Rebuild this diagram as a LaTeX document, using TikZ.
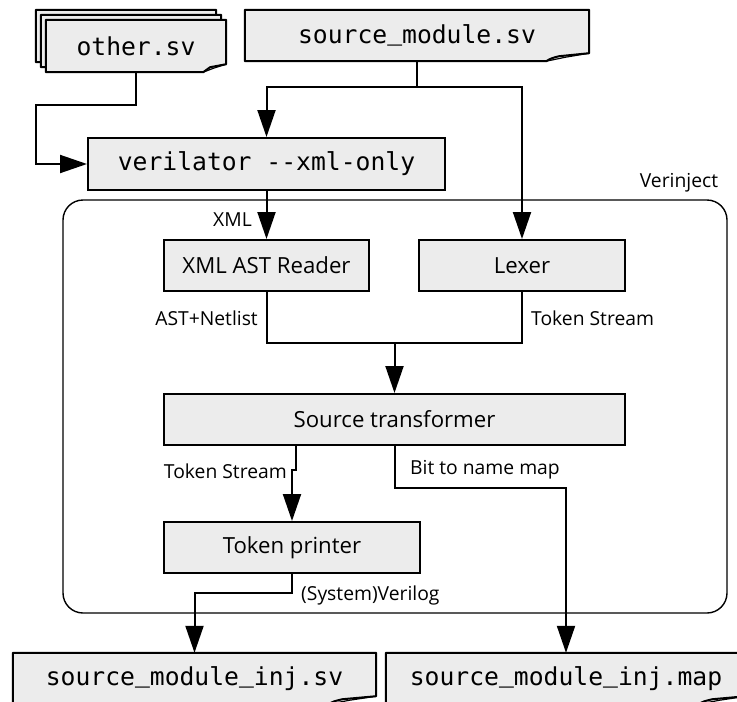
\documentclass[tikz,border=0pt]{standalone}
\usepackage{fontspec}
\setmainfont{Open Sans}
\newfontfamily\codefont{DejaVu Sans Mono}
\newfontfamily\usfont{Liberation Mono}
\usetikzlibrary{arrows.meta,calc}
\definecolor{boxfill}{RGB}{236,236,236}
% underscore taken from a font whose low line is heavier
\newcommand\us{\makebox[0.602em][c]{\usfont\char"5F}}
\tikzset{
  box/.style={draw, line width=2pt, fill=boxfill, inner sep=0pt,
    font=\fontsize{22.2}{26}\selectfont},
  fileframe/.style={inner sep=0pt},
  filetext/.style={inner sep=0pt, font=\codefont\fontsize{24.7}{28}\selectfont},
  wire/.style={line width=2pt},
  flow/.style={wire, -{Triangle[length=27pt,width=18pt]}},
  lbl/.style={inner sep=0pt, font=\fontsize{19.3}{23}\selectfont},
  group/.style={draw, line width=1.4pt, rounded corners=20pt},
}
% document outline with a folded lower-right corner
\newcommand\docpath[2]{%
  \filldraw[fill=boxfill, line width=2pt, line join=round]
    (#1.north west) -- (#1.north east) -- ($(#1.south east)+(0,-8)$)
    -- ($(#1.south east)+({-0.7*#2},-5)$)
    .. controls ($(#1.south east)+({-0.88*#2},-3)$) .. ($(#1.south east)+(-#2,0)$)
    -- (#1.south west) -- cycle;
  \draw[line width=1.2pt, line join=round]
    ($(#1.south east)+(-#2,0)$) -- ($(#1.south east)+({-0.55*#2},-4)$)
    -- ($(#1.south east)+(0,-8)$);
}
\begin{document}
\begin{tikzpicture}[x=1pt,y=-1pt]
\useasboundingbox (0,0) rectangle (737,702);
\clip (0,0) rectangle (737,702);

% stacked input files
\node[fileframe, minimum width=180pt, minimum height=52pt] (other2) at (126,36) {};
\docpath{other2}{23}
\node[fileframe, minimum width=180pt, minimum height=52pt] (other1) at (131,41) {};
\docpath{other1}{23}
\node[fileframe, minimum width=180pt, minimum height=52pt] (other) at (136,46) {};
\docpath{other}{23}
\node[filetext] (othertxt) at (other) {other.sv};

\node[fileframe, minimum width=344pt, minimum height=51pt] (src) at (417,35.5) {};
\docpath{src}{43}
\node[filetext] (srctxt) at (src) {source\us module.sv};

% verilator front end
\node[box, minimum width=357pt, minimum height=52pt] (ver) at (266.5,164) {};
\node[filetext] (vertxt) at (ver) {verilator -{}-xml-only};

% Verinject group
\draw[group] (63,200) rectangle (727,613);
\node[lbl] (grp) at (679,183) {Verinject};

\node[box, minimum width=205pt, minimum height=51pt] (xmlr) at (266.5,265.5) {XML AST Reader};
\node[box, minimum width=206pt, minimum height=51pt] (lex) at (522,265.5) {Lexer};
\node[box, minimum width=461pt, minimum height=51pt] (st) at (394.5,419.5) {Source transformer};
\node[box, minimum width=256pt, minimum height=51pt] (tp) at (292,547.5) {Token printer};

% output files
\node[fileframe, minimum width=363pt, minimum height=51pt] (inj) at (194.5,678.5) {};
\docpath{inj}{48}
\node[filetext] (injtxt) at (inj) {source\us module\us inj.sv};
\node[fileframe, minimum width=360pt, minimum height=51pt] (map) at (566,678.5) {};
\docpath{map}{48}
\node[filetext] (maptxt) at (map) {source\us module\us inj.map};

% connectors
\coordinate (split) at (417,87);
\draw[wire] (src.south) -- (split);
\draw[flow] (split) -| (ver.north);
\draw[flow] (split) -| (lex.north);

\draw[flow] (other.south) -- ++(0,33) -| (36,164) -- (ver.west);

\draw[flow] (ver.south) -- (xmlr.north);
\node[lbl, anchor=east] (lxml) at (252,220) {XML};

\coordinate (join) at (266.5,343);
\draw[wire] (xmlr.south) -- (join) -| (lex.south);
\draw[flow] (st.north |- join) -- (st.north);
\node[lbl, anchor=east] (last) at (258,318) {AST+Netlist};
\node[lbl, anchor=west] (ltok1) at (531,318) {Token Stream};

\coordinate (tsout) at ($(st.south west)+(133,0)$);
\draw[flow] (tsout) -- ++(0,24) -| (tp.north);
\node[lbl, anchor=east] (ltok2) at (287,471) {Token Stream};

\draw[flow] (st.south) -- ++(0,42) -| (map.north);
\node[lbl, anchor=west] (lbit) at (410,470) {Bit to name map};

\draw[flow] (tp.south) -- ++(0,19) -| (inj.north);
\node[lbl, anchor=west] (lsv) at (301,595) {(System)Verilog};
\end{tikzpicture}
\end{document}
